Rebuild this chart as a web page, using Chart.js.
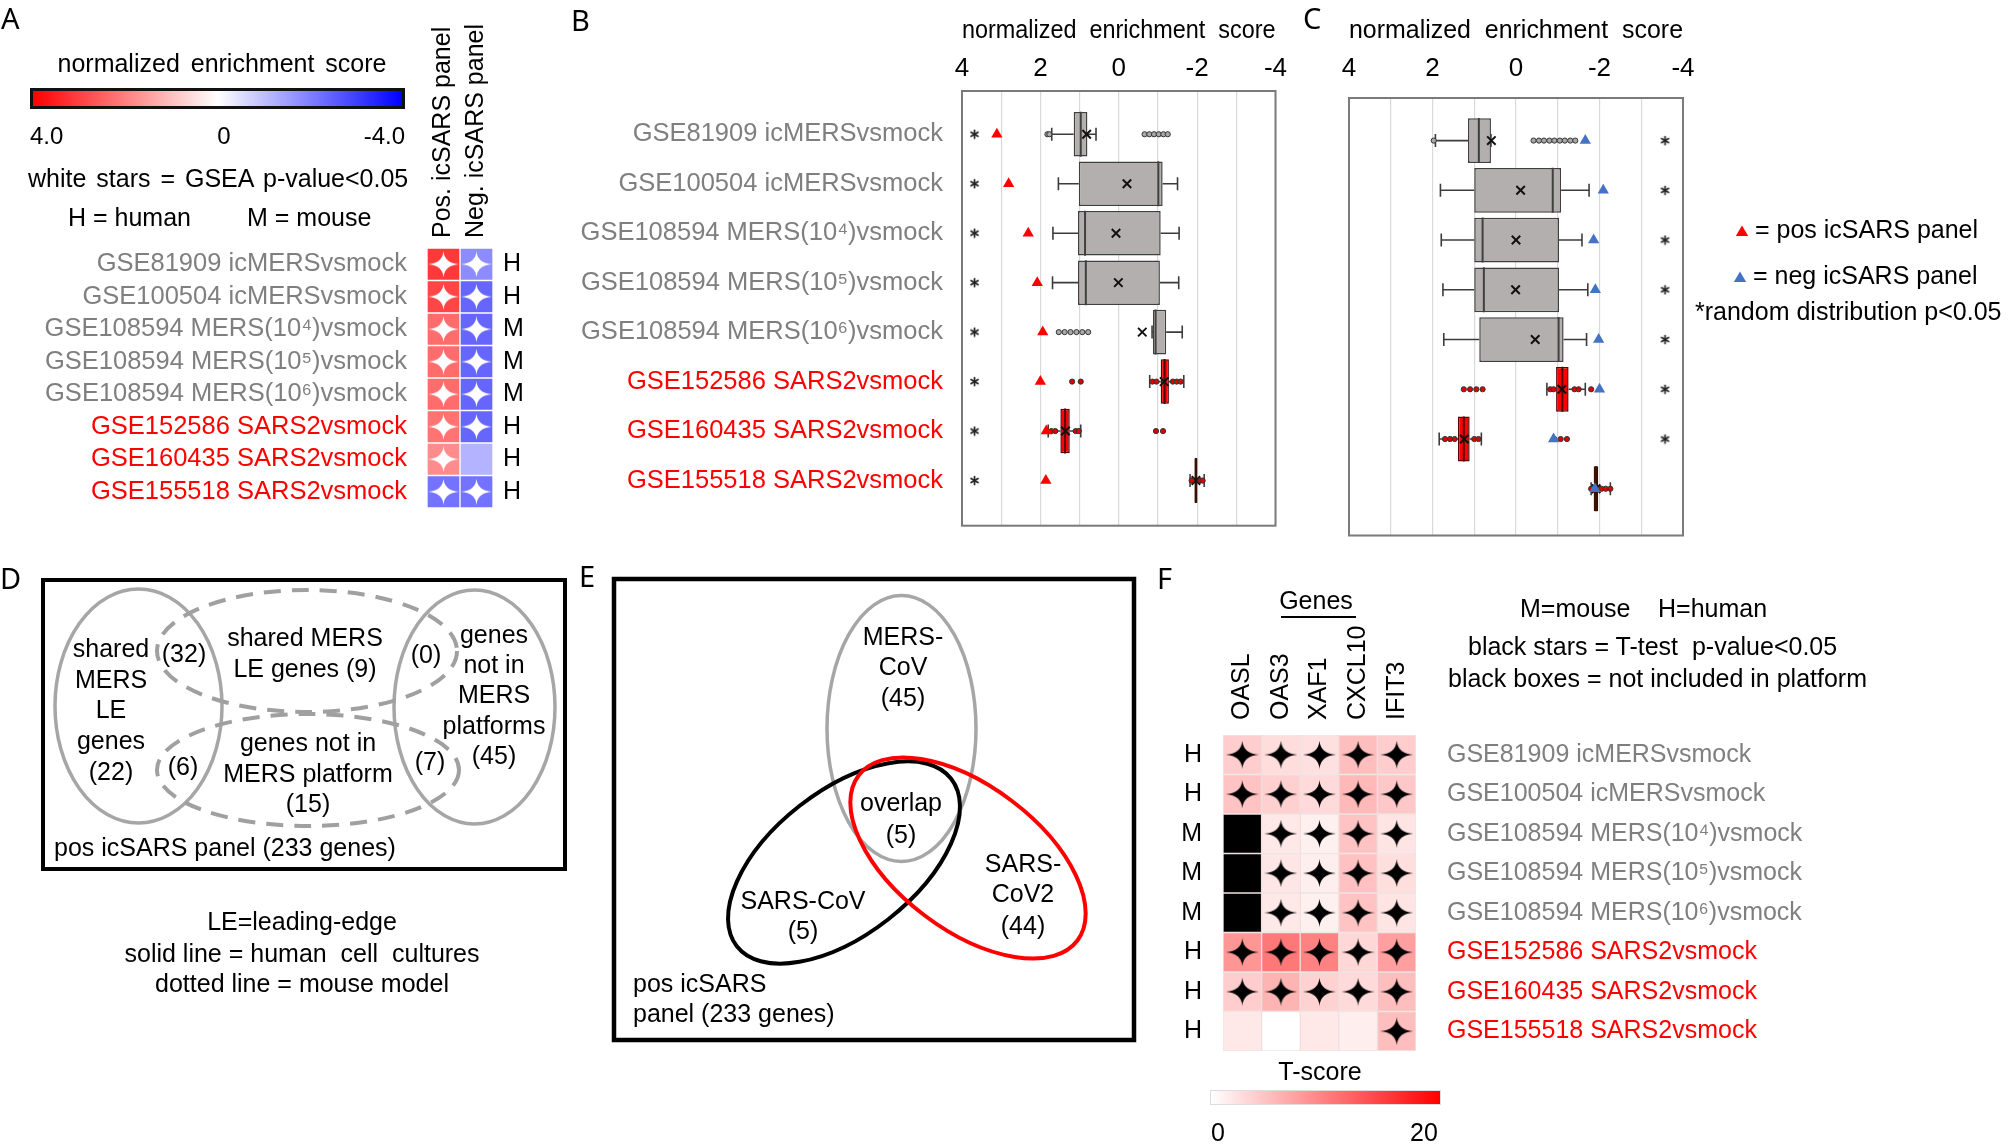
<!DOCTYPE html>
<html><head><meta charset="utf-8">
<script src="https://cdn.jsdelivr.net/npm/chart.js@4.4.1/dist/chart.umd.min.js"></script>
<style>
html,body{margin:0;padding:0;background:#fff;}
body{position:relative;width:2008px;height:1144px;overflow:hidden;font-family:"Liberation Sans",Arial,sans-serif;}
canvas{position:absolute;}
.t{position:absolute;line-height:1;white-space:pre;}
</style></head><body>
<script>
// ===================== DATA =====================
const datasetRows = ['GSE81909 icMERSvsmock', 'GSE100504 icMERSvsmock', 'GSE108594 MERS(10⁴)vsmock', 'GSE108594 MERS(10⁵)vsmock', 'GSE108594 MERS(10⁶)vsmock', 'GSE152586 SARS2vsmock', 'GSE160435 SARS2vsmock', 'GSE155518 SARS2vsmock'];
const virusOfRow = ['MERS', 'MERS', 'MERS', 'MERS', 'MERS', 'SARS2', 'SARS2', 'SARS2'];
const hostOfRow = ['H', 'H', 'M', 'M', 'M', 'H', 'H', 'H'];

// Panel A: normalized enrichment scores (heatmap)
const panelColumns = ['Pos. icSARS panel', 'Neg. icSARS panel'];
const nesPosPanel = [3.1, 2.9, 2.3, 2.3, 2.3, 2.2, 1.8, -2.2];
const nesNegPanel = [-1.8, -2.4, -2.4, -2.4, -2.4, -2.4, -1.2, -2.2];
const gseaSigPos = [1, 1, 1, 1, 1, 1, 1, 1];
const gseaSigNeg = [1, 1, 1, 1, 1, 1, 0, 1];
const nesScaleLabels = ['4.0', '0', '-4.0'];

// Panel B: random distributions vs pos icSARS panel
const boxUpperB = [1.15, 1.02, 1.04, 1.04, -0.87, -1.07, 1.49, -1.93];
const boxLowerB = [0.80, -1.12, -1.07, -1.05, -1.21, -1.28, 1.25, -2.01];
const medianB = [0.97, -1.01, 0.86, 0.84, -0.94, -1.17, 1.37, -1.97];
const meanB = [0.82, -0.21, 0.07, 0.01, -0.60, -1.16, 1.36, -1.97];
const whiskerHighB = [1.71, 1.54, 1.68, 1.69, -0.85, -0.79, 1.80, -1.82];
const whiskerLowB = [0.58, -1.50, -1.54, -1.53, -1.62, -1.66, 0.97, -2.18];
const pointsB = [[1.82, 1.77, -0.66, -0.78, -0.90, -1.02, -1.14, -1.25], [], [], [], [1.53, 1.38, 1.23, 1.08, 0.93, 0.78], [1.19, 0.97, -0.86, -0.96, -1.38, -1.48, -1.58], [1.72, 1.62, 1.10, 1.02, -0.95, -1.13], [-1.86, -2.08, -2.14]];
const posPanelNesB = [3.11, 2.81, 2.31, 2.08, 1.94, 2.00, 1.85, 1.86];
const randomSigB = [1, 1, 1, 1, 1, 1, 1, 1];

// Panel C: random distributions vs neg icSARS panel
const boxUpperC = [1.15, 1.00, 1.00, 1.00, 0.88, -0.96, 1.39, -1.86];
const boxLowerC = [0.60, -1.08, -1.03, -1.03, -1.14, -1.26, 1.11, -1.97];
const medianC = [0.89, -0.88, 0.80, 0.77, -1.02, -1.11, 1.25, -1.92];
const meanC = [0.59, -0.11, 0.00, 0.01, -0.46, -1.10, 1.24, -1.92];
const whiskerHighC = [1.93, 1.81, 1.79, 1.75, 1.73, -0.74, 1.84, -1.80];
const whiskerLowC = [0.60, -1.75, -1.58, -1.72, -1.69, -1.66, 0.83, -2.26];
const pointsC = [[1.97, -0.42, -0.55, -0.67, -0.80, -0.92, -1.05, -1.17, -1.30, -1.42], [], [], [], [], [1.25, 1.10, 0.95, 0.80, -0.82, -0.90, -1.40, -1.50, -1.80], [1.70, 1.58, 1.47, 1.00, 0.90, -0.92, -1.07, -1.22], [-1.80, -2.05, -2.15, -2.26]];
const negPanelNesC = [-1.66, -2.09, -1.86, -1.90, -1.98, -2.00, -0.90, -1.89];
const randomSigC = [1, 1, 1, 1, 1, 1, 1, 0];
const nesTicks = [4, 2, 0, -2, -4];

// Panel D / E: Venn counts
const vennDCounts = [22, 32, 9, 6, 15, 0, 7, 45];
const vennECounts = [45, 5, 5, 44];
const panelGeneTotal = 233;

// Panel F: T-scores (null = not included in platform)
const genesF = ['OASL', 'OAS3', 'XAF1', 'CXCL10', 'IFIT3'];
const tOASL   = [3.9, 4.7, null, null, null, 8.2, 3.9, 1.8];
const tOAS3   = [2.7, 3.7, 1.8, 2.0, 1.8, 10.6, 5.9, 0.0];
const tXAF1   = [2.4, 2.9, 1.2, 1.3, 1.2, 9.8, 3.5, 1.8];
const tCXCL10 = [5.1, 5.5, 4.7, 4.9, 4.7, 3.1, 2.9, 1.3];
const tIFIT3  = [3.9, 4.3, 2.1, 2.6, 2.1, 7.5, 5.1, 5.1];
const sigOASL   = [1, 1, 0, 0, 0, 1, 1, 0];
const sigOAS3   = [1, 1, 1, 1, 1, 1, 1, 0];
const sigXAF1   = [1, 1, 1, 1, 1, 1, 1, 0];
const sigCXCL10 = [1, 1, 1, 1, 1, 1, 1, 0];
const sigIFIT3  = [1, 1, 1, 1, 1, 1, 1, 1];
const tScaleLabels = ['0', '20'];

// ===================== STYLE / HELPERS =====================
const FONT = '"Liberation Sans", Arial, sans-serif';
Chart.defaults.font.family = FONT;
Chart.defaults.color = '#000';
Chart.defaults.animation = false;
Chart.defaults.events = [];
Chart.defaults.plugins.legend.display = false;
Chart.defaults.plugins.tooltip.enabled = false;

function mkCanvas(x, y, w, h) {
  const c = document.createElement('canvas');
  c.width = w; c.height = h;
  c.style.left = x + 'px'; c.style.top = y + 'px';
  c.style.width = w + 'px'; c.style.height = h + 'px';
  document.body.appendChild(c);
  return c;
}
function addText(txt, x, y, o = {}) {
  const d = document.createElement('div');
  d.className = 't';
  d.textContent = txt;
  const size = o.size || 25;
  const tx = o.align === 'center' ? -50 : (o.align === 'right' ? -100 : 0);
  d.style.left = x + 'px'; d.style.top = y + 'px';
  d.style.font = `${o.weight || 'normal'} ${size}px ${o.family || FONT}`;
  d.style.color = o.color || '#000';
  if (o.ws) d.style.wordSpacing = o.ws + 'px';
  d.style.transform = `translate(${tx}%, -50%)`;
  document.body.appendChild(d);
  return d;
}
function addBox(x, y, w, h, css) {
  const d = document.createElement('div');
  d.style.cssText = `position:absolute;left:${x}px;top:${y}px;width:${w}px;height:${h}px;box-sizing:border-box;${css}`;
  document.body.appendChild(d);
}
const rowColor = i => virusOfRow[i] === 'MERS' ? '#7f7f7f' : '#ff0000';
function nesColor(v) {
  const t = Math.min(Math.abs(v) / 4, 1);
  const c = Math.round(255 * (1 - t));
  return v >= 0 ? `rgb(255,${c},${c})` : `rgb(${c},${c},255)`;
}
function tColor(v) {
  if (v === null) return '#000000';
  const t = Math.min(v / 20, 1);
  const c = Math.round(255 * (1 - t));
  return `rgb(255,${c},${c})`;
}
function starImage(w, h, color) {
  const c = document.createElement('canvas');
  c.width = w; c.height = h;
  const g = c.getContext('2d');
  const cx = w / 2, cy = h / 2, iw = w * 0.035, ih = h * 0.035;
  g.fillStyle = color;
  g.beginPath();
  g.moveTo(cx, 0);
  g.quadraticCurveTo(cx + iw, cy - ih, w, cy);
  g.quadraticCurveTo(cx + iw, cy + ih, cx, h);
  g.quadraticCurveTo(cx - iw, cy + ih, 0, cy);
  g.quadraticCurveTo(cx - iw, cy - ih, cx, 0);
  g.fill();
  return c;
}
function asteriskImage(s, color) {
  const c = document.createElement('canvas');
  c.width = s; c.height = s;
  const g = c.getContext('2d');
  g.strokeStyle = color; g.lineWidth = 1.7; g.lineCap = 'round';
  const r = s / 2 - 1.5;
  for (let k = 0; k < 3; k++) {
    const a = Math.PI / 2 + k * Math.PI / 3;
    g.beginPath();
    g.moveTo(s / 2 - r * Math.cos(a), s / 2 - r * Math.sin(a));
    g.lineTo(s / 2 + r * Math.cos(a), s / 2 + r * Math.sin(a));
    g.stroke();
  }
  return c;
}
const whiteStar = starImage(31, 26, '#ffffff');
const blackStar = starImage(33, 28, '#000000');
const asterisk = asteriskImage(11, '#222');

const framePlugin = {
  id: 'frame',
  afterDatasetsDraw(chart, args, o) {
    if (!o || !o.color) return;
    const { ctx, chartArea: a } = chart;
    ctx.save();
    ctx.strokeStyle = o.color; ctx.lineWidth = o.width;
    ctx.strokeRect(a.left, a.top, a.right - a.left, a.bottom - a.top);
    ctx.restore();
  }
};
const annotPlugin = {
  id: 'annot',
  afterDraw(chart, args, o) {
    if (!o || !o.items) return;
    const ctx = chart.ctx;
    ctx.save();
    for (const it of o.items) {
      const x = it.x - o.ox, y = it.y - o.oy;
      if (it.tri) {
        ctx.fillStyle = it.color;
        ctx.beginPath();
        ctx.moveTo(x, y - it.r);
        ctx.lineTo(x + it.r * 0.95, y + it.r * 0.6);
        ctx.lineTo(x - it.r * 0.95, y + it.r * 0.6);
        ctx.closePath(); ctx.fill();
      } else {
        ctx.font = `${it.size || 25}px ${FONT}`;
        ctx.fillStyle = it.color || '#000';
        ctx.textAlign = it.align || 'left';
        ctx.textBaseline = 'middle';
        ctx.fillText(it.text, x, y);
      }
    }
    ctx.restore();
  }
};
const vennPlugin = {
  id: 'venn',
  afterDraw(chart, args, o) {
    if (!o || !o.sets) return;
    const { ctx } = chart;
    const sx = chart.scales.x, sy = chart.scales.y;
    const X = v => sx.getPixelForValue(v), Y = v => sy.getPixelForValue(v);
    const kx = Math.abs(X(1) - X(0)), ky = Math.abs(Y(1) - Y(0));
    ctx.save();
    const f = o.frame;
    ctx.lineWidth = f.lw; ctx.strokeStyle = '#000';
    ctx.strokeRect(X(f.x0), Y(f.y0), (f.x1 - f.x0) * kx, (f.y1 - f.y0) * ky);
    for (const e of o.sets) {
      ctx.beginPath();
      ctx.setLineDash(e.dash || []);
      ctx.lineWidth = e.lw; ctx.strokeStyle = e.color;
      ctx.ellipse(X(e.cx), Y(e.cy), e.rx * kx, e.ry * ky, (e.rot || 0) * Math.PI / 180, 0, 2 * Math.PI);
      ctx.stroke();
    }
    ctx.setLineDash([]);
    ctx.font = `25px ${FONT}`; ctx.fillStyle = '#000'; ctx.textBaseline = 'middle';
    for (const t of o.texts) {
      ctx.textAlign = t.align || 'center';
      ctx.fillText(t.text, X(t.x), Y(t.y));
    }
    ctx.restore();
  }
};

// ===================== PANEL A =====================
(function () {
  const stars = [];
  datasetRows.forEach((r, i) => {
    if (gseaSigPos[i]) stars.push({ x: 0.5, y: r });
    if (gseaSigNeg[i]) stars.push({ x: 1.5, y: r });
  });
  const cell = { barPercentage: 1, categoryPercentage: 1, borderWidth: 1, borderColor: 'rgba(255,255,255,0.35)', borderSkipped: false };
  new Chart(mkCanvas(0, 0, 560, 540), {
    type: 'bar',
    data: {
      labels: datasetRows,
      datasets: [
        Object.assign({ label: panelColumns[0], data: datasetRows.map(() => 1), backgroundColor: nesPosPanel.map(nesColor), order: 2 }, cell),
        Object.assign({ label: panelColumns[1], data: datasetRows.map(() => 1), backgroundColor: nesNegPanel.map(nesColor), order: 2 }, cell),
        { type: 'scatter', xAxisID: 'xs', yAxisID: 'y', data: stars, pointStyle: whiteStar, radius: 5, order: 0 }
      ]
    },
    options: {
      indexAxis: 'y', responsive: false, devicePixelRatio: 1,
      layout: { padding: { top: 0, bottom: 32, left: 0, right: 0 } },
      scales: {
        x: { type: 'linear', stacked: true, min: 0, max: 2, display: false },
        xs: { type: 'linear', min: 0, max: 2, display: false },
        y: { type: 'category', stacked: true, position: 'left', grid: { display: false }, border: { display: false },
             ticks: { font: { size: 25.5 }, color: c => rowColor(c.index), padding: 12, autoSkip: false },
             afterFit: s => { s.width = 427; } },
        x2: { type: 'category', position: 'top', labels: panelColumns, offset: true, grid: { display: false, drawTicks: false }, border: { display: false },
              ticks: { font: { size: 25 }, minRotation: 90, maxRotation: 90, padding: 10, labelOffset: 30, autoSkip: false },
              afterFit: s => { s.height = 248; } },
        y2: { type: 'category', position: 'right', labels: datasetRows, offset: true, grid: { display: false, drawTicks: false }, border: { display: false },
              ticks: { font: { size: 25 }, padding: 10, autoSkip: false, callback: (v, i) => hostOfRow[i] },
              afterFit: s => { s.width = 67; } }
      }
    }
  });
  addText('normalized enrichment score', 222, 63, { align: 'center', ws: 4 });
  addBox(30, 88, 375, 21, 'border:3px solid #111;background:linear-gradient(to right,#ff0000,#ffffff 50%,#0000ff);');
  addText(nesScaleLabels[0], 30, 136, { size: 24 });
  addText(nesScaleLabels[1], 224, 136, { size: 24, align: 'center' });
  addText(nesScaleLabels[2], 405, 136, { size: 24, align: 'right' });
  addText('white stars = GSEA p-value<0.05', 28, 178, { ws: 3 });
  addText('H = human', 68, 217);
  addText('M = mouse', 247, 217);
})();

// ===================== PANELS B & C =====================
function boxPlot(canvas, d) {
  const idx = datasetRows.map((_, i) => i);
  const isRed = i => virusOfRow[i] === 'SARS2';
  const pts = arr => idx.map(i => ({ x: arr[i], y: i }));
  const many = arrs => arrs.flatMap((a, i) => a.map(v => ({ x: v, y: i })));
  const stars = idx.filter(i => d.sig[i]).map(i => ({ x: d.starX, y: i }));
  const whisk = '#3c3c3c';
  return new Chart(canvas, {
    type: 'bar',
    data: {
      datasets: [
        { type: 'bar', order: 7, data: idx.map(i => ({ x: [d.whiskerHigh[i], d.upper[i]], y: i })), backgroundColor: whisk, maxBarThickness: 1.6, grouped: false },
        { type: 'bar', order: 7, data: idx.map(i => ({ x: [d.lower[i], d.whiskerLow[i]], y: i })), backgroundColor: whisk, maxBarThickness: 1.6, grouped: false },
        { type: 'bar', order: 6, data: idx.map(i => ({ x: [d.upper[i], d.lower[i]], y: i })), backgroundColor: d.fill, borderColor: d.edge, borderWidth: 1.5, borderSkipped: false, barPercentage: 0.9, categoryPercentage: 1, grouped: false },
        { type: 'scatter', order: 5, data: pts(d.whiskerHigh).concat(pts(d.whiskerLow)), pointStyle: 'line', rotation: 90, radius: 6.5, borderColor: whisk, borderWidth: 1.6 },
        { type: 'scatter', order: 4, data: pts(d.median), pointStyle: 'line', rotation: 90, radius: 22.5, borderColor: d.edge, borderWidth: 2 },
        { type: 'scatter', order: 3, data: pts(d.mean), pointStyle: 'crossRot', radius: 6, borderColor: '#111', borderWidth: 2 },
        { type: 'scatter', order: 2, data: many(d.points), pointStyle: 'circle', radius: 2.6, backgroundColor: c => isRed(c.raw.y) ? '#e00000' : '#a8a8a8', borderColor: '#333', borderWidth: 1 },
        { type: 'scatter', order: 1, data: pts(d.panel), pointStyle: 'triangle', radius: 6.5, backgroundColor: d.triColor, borderColor: d.triColor, borderWidth: 0 },
        { type: 'scatter', order: 0, data: stars, pointStyle: asterisk, radius: 5 }
      ]
    },
    options: {
      indexAxis: 'y', responsive: false, devicePixelRatio: 1,
      layout: { padding: d.padding },
      scales: {
        x: { type: 'linear', position: 'top', min: -4, max: 4, reverse: true,
             grid: { color: '#d9d9d9', lineWidth: 1.2, drawTicks: false }, border: { display: false },
             ticks: { stepSize: 1, autoSkip: false, maxRotation: 0, padding: d.tickPad, font: { size: 26 },
                      callback: v => nesTicks.includes(Math.round(v)) && Math.round(v) % 2 === 0 ? String(Math.round(v)) : '' },
             title: { display: true, text: 'normalized  enrichment  score', font: { size: 25 }, padding: 0 },
             afterFit: s => { s.height = d.axisH; } },
        y: { type: 'linear', position: 'left', min: d.ymin, max: d.ymax, reverse: true, offset: false,
             display: d.showRows, grid: { display: false, drawTicks: false }, border: { display: false },
             afterBuildTicks: s => { s.ticks = idx.map(i => ({ value: i })); },
             ticks: { autoSkip: false, padding: 19, font: { size: 25.5 }, color: c => rowColor(c.index), callback: v => datasetRows[v] },
             afterFit: s => { s.width = d.yW; } }
      },
      plugins: { frame: { color: '#7a7a7a', width: 2 }, annot: d.annot || {} }
    },
    plugins: [framePlugin, annotPlugin]
  });
}
const boxFill = ['#b3afaf', '#b3afaf', '#b3afaf', '#b3afaf', '#b3afaf', '#ff0000', '#ff0000'];
const boxEdge = ['#404040', '#404040', '#404040', '#404040', '#404040', '#5a0000', '#5a0000', '#3a1000'];
boxPlot(mkCanvas(560, 0, 740, 560), {
  upper: boxUpperB, lower: boxLowerB, median: medianB, mean: meanB, whiskerHigh: whiskerHighB, whiskerLow: whiskerLowB,
  points: pointsB, panel: posPanelNesB, sig: randomSigB, starX: 3.68, triColor: '#ff0000',
  fill: boxFill.concat(['#8b3a10']), edge: boxEdge,
  padding: { top: 16, right: 8, bottom: 23, left: 0 }, axisH: 75, tickPad: 7, ymin: -0.874, ymax: 7.913, showRows: true, yW: 402
});
boxPlot(mkCanvas(1300, 0, 708, 560), {
  upper: boxUpperC, lower: boxLowerC, median: medianC, mean: meanC, whiskerHigh: whiskerHighC, whiskerLow: whiskerLowC,
  points: pointsC, panel: negPanelNesC, sig: randomSigC, starX: -3.57, triColor: '#4472c4',
  fill: boxFill.concat(['#3b0c0c']), edge: boxEdge,
  padding: { top: 16, right: 325, bottom: 17, left: 49 }, axisH: 82, tickPad: 14, ymin: -0.856, ymax: 7.94, showRows: false, yW: 0,
  annot: { ox: 1300, oy: 0, items: [
    { tri: true, x: 1742, y: 232, r: 6.5, color: '#ff0000' },
    { text: '= pos icSARS panel', x: 1755, y: 231 },
    { tri: true, x: 1740, y: 278, r: 6.5, color: '#4472c4' },
    { text: '= neg icSARS panel', x: 1753, y: 277 },
    { text: '*random distribution p<0.05', x: 1695, y: 313 }
  ] }
});

// ===================== PANEL D =====================
(function () {
  const c = vennDCounts;
  new Chart(mkCanvas(0, 560, 580, 400), {
    type: 'scatter', data: { datasets: [] },
    options: {
      responsive: false, devicePixelRatio: 1, layout: { padding: 0 },
      scales: { x: { type: 'linear', min: 0, max: 580, display: false }, y: { type: 'linear', min: 560, max: 960, reverse: true, display: false } },
      plugins: { venn: {
        frame: { x0: 43, y0: 580, x1: 565, y1: 869, lw: 4 },
        sets: [
          { cx: 138.5, cy: 706, rx: 83.5, ry: 117, color: '#a6a6a6', lw: 3.5 },
          { cx: 474.5, cy: 707, rx: 80.5, ry: 117, color: '#a6a6a6', lw: 3.5 },
          { cx: 307, cy: 651, rx: 150, ry: 61, color: '#a0a0a0', lw: 4, dash: [17, 11] },
          { cx: 308, cy: 770, rx: 151, ry: 56, color: '#a0a0a0', lw: 4, dash: [17, 11] }
        ],
        texts: [
          { text: 'shared', x: 111, y: 650 }, { text: 'MERS', x: 111, y: 681 }, { text: 'LE', x: 111, y: 711 }, { text: 'genes', x: 111, y: 742 }, { text: `(${c[0]})`, x: 111, y: 773 },
          { text: `(${c[1]})`, x: 184, y: 655 },
          { text: 'shared MERS', x: 305, y: 639 }, { text: `LE genes (${c[2]})`, x: 305, y: 670 },
          { text: `(${c[3]})`, x: 183, y: 768 },
          { text: 'genes not in', x: 308, y: 744 }, { text: 'MERS platform', x: 308, y: 775 }, { text: `(${c[4]})`, x: 308, y: 805 },
          { text: `(${c[5]})`, x: 426, y: 656 },
          { text: `(${c[6]})`, x: 430, y: 763 },
          { text: 'genes', x: 494, y: 636 }, { text: 'not in', x: 494, y: 666 }, { text: 'MERS', x: 494, y: 696 }, { text: 'platforms', x: 494, y: 727 }, { text: `(${c[7]})`, x: 494, y: 757 },
          { text: `pos icSARS panel (${panelGeneTotal} genes)`, x: 54, y: 849, align: 'left' }
        ]
      } }
    },
    plugins: [vennPlugin]
  });
  addText('LE=leading-edge', 302, 921, { align: 'center' });
  addText('solid line = human  cell  cultures', 302, 953, { align: 'center' });
  addText('dotted line = mouse model', 302, 983, { align: 'center' });
})();

// ===================== PANEL E =====================
(function () {
  const c = vennECounts;
  new Chart(mkCanvas(590, 560, 560, 500), {
    type: 'scatter', data: { datasets: [] },
    options: {
      responsive: false, devicePixelRatio: 1, layout: { padding: 0 },
      scales: { x: { type: 'linear', min: 590, max: 1150, display: false }, y: { type: 'linear', min: 560, max: 1060, reverse: true, display: false } },
      plugins: { venn: {
        frame: { x0: 614, y0: 579, x1: 1134, y1: 1040, lw: 4.5 },
        sets: [
          { cx: 901.5, cy: 728.5, rx: 74.5, ry: 133, color: '#a6a6a6', lw: 3.5 },
          { cx: 844, cy: 862.5, rx: 136, ry: 72, rot: -38, color: '#000000', lw: 4 },
          { cx: 968, cy: 858, rx: 137, ry: 72, rot: 37, color: '#ff0000', lw: 4 }
        ],
        texts: [
          { text: 'MERS-', x: 903, y: 638 }, { text: 'CoV', x: 903, y: 668 }, { text: `(${c[0]})`, x: 903, y: 699 },
          { text: 'overlap', x: 901, y: 804 }, { text: `(${c[1]})`, x: 901, y: 836 },
          { text: 'SARS-CoV', x: 803, y: 902 }, { text: `(${c[2]})`, x: 803, y: 932 },
          { text: 'SARS-', x: 1023, y: 865 }, { text: 'CoV2', x: 1023, y: 895 }, { text: `(${c[3]})`, x: 1023, y: 927 },
          { text: 'pos icSARS', x: 633, y: 985, align: 'left' }, { text: `panel (${panelGeneTotal} genes)`, x: 633, y: 1015, align: 'left' }
        ]
      } }
    },
    plugins: [vennPlugin]
  });
})();

// ===================== PANEL F =====================
(function () {
  const tCols = [tOASL, tOAS3, tXAF1, tCXCL10, tIFIT3];
  const sCols = [sigOASL, sigOAS3, sigXAF1, sigCXCL10, sigIFIT3];
  const stars = [];
  sCols.forEach((col, j) => col.forEach((s, i) => { if (s) stars.push({ x: j + 0.5, y: datasetRows[i] }); }));
  const cell = { barPercentage: 1, categoryPercentage: 1, borderWidth: 1, borderColor: 'rgba(205,150,150,0.25)', borderSkipped: false, order: 2 };
  new Chart(mkCanvas(1150, 560, 858, 584), {
    type: 'bar',
    data: {
      labels: datasetRows,
      datasets: genesF.map((g, j) => Object.assign({ label: g, data: datasetRows.map(() => 1), backgroundColor: tCols[j].map(tColor) }, cell))
        .concat([{ type: 'scatter', xAxisID: 'xs', yAxisID: 'y', data: stars, pointStyle: blackStar, radius: 5, order: 0 }])
    },
    options: {
      indexAxis: 'y', responsive: false, devicePixelRatio: 1,
      layout: { padding: { top: 0, bottom: 93, left: 0, right: 0 } },
      scales: {
        x: { type: 'linear', stacked: true, min: 0, max: 5, display: false },
        xs: { type: 'linear', min: 0, max: 5, display: false },
        y: { type: 'category', stacked: true, position: 'left', grid: { display: false, drawTicks: false }, border: { display: false },
             ticks: { font: { size: 25 }, padding: 21, autoSkip: false, callback: (v, i) => hostOfRow[i] },
             afterFit: s => { s.width = 73; } },
        x2: { type: 'category', position: 'top', labels: genesF, offset: true, grid: { display: false, drawTicks: false }, border: { display: false },
              ticks: { font: { size: 25 }, minRotation: 90, maxRotation: 90, padding: 15, labelOffset: 30, autoSkip: false },
              afterFit: s => { s.height = 175; } },
        y2: { type: 'category', position: 'right', labels: datasetRows, offset: true, grid: { display: false, drawTicks: false }, border: { display: false },
              ticks: { font: { size: 25 }, padding: 31, autoSkip: false, color: c => rowColor(c.index) },
              afterFit: s => { s.width = 592; } }
      }
    }
  });
  addText('Genes', 1316, 600, { align: 'center' });
  addBox(1281, 616, 75, 2, 'background:#000;');
  addText('M=mouse', 1520, 608);
  addText('H=human', 1658, 608);
  addText('black stars = T-test  p-value<0.05', 1468, 646);
  addText('black boxes = not included in platform', 1448, 678);
  addText('T-score', 1320, 1071, { align: 'center' });
  addBox(1210, 1090, 231, 15, 'border:1px solid #ddd;background:linear-gradient(to right,#ffffff,#ff0000);');
  addText(tScaleLabels[0], 1218, 1132, { align: 'center' });
  addText(tScaleLabels[1], 1424, 1132, { align: 'center' });
})();

// ===================== PANEL LETTERS =====================
[['A', 1, 17], ['B', 571, 19], ['C', 1303, 17], ['D', 0, 577], ['E', 579, 575], ['F', 1157, 577]]
  .forEach(([l, x, y]) => addText(l, x, y, { size: 29, family: '"Noto Sans", "Open Sans", sans-serif' }));
</script>
</body></html>
